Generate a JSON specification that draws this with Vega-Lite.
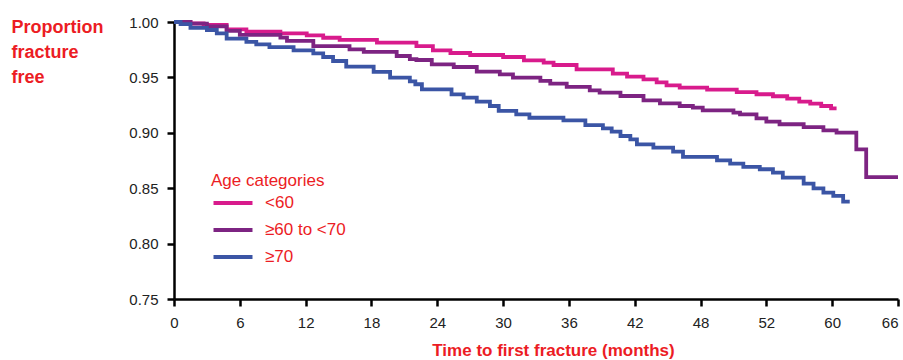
{
  "$schema": "https://vega.github.io/schema/vega-lite/v6.json",
  "width": 724,
  "height": 277,
  "autosize": "none",
  "padding": {"left": 174, "top": 22, "right": 5, "bottom": 61},
  "background": "white",
  "config": {"view": {"stroke": null}, "font": "Liberation Sans"},
  "data": {
    "values": [
      {"g": "<60", "t": 0, "v": 1.0},
      {"g": "<60", "t": 1.5, "v": 0.9988},
      {"g": "<60", "t": 2.7, "v": 0.9973},
      {"g": "<60", "t": 4.8, "v": 0.9934},
      {"g": "<60", "t": 6.6, "v": 0.9913},
      {"g": "<60", "t": 9.7, "v": 0.9898},
      {"g": "<60", "t": 12.1, "v": 0.988},
      {"g": "<60", "t": 13.6, "v": 0.9858},
      {"g": "<60", "t": 15.1, "v": 0.9838},
      {"g": "<60", "t": 18.5, "v": 0.9813},
      {"g": "<60", "t": 22.1, "v": 0.9783},
      {"g": "<60", "t": 23.6, "v": 0.9744},
      {"g": "<60", "t": 25.2, "v": 0.972},
      {"g": "<60", "t": 27.0, "v": 0.9702},
      {"g": "<60", "t": 30.0, "v": 0.9684},
      {"g": "<60", "t": 31.9, "v": 0.9654},
      {"g": "<60", "t": 33.7, "v": 0.9633},
      {"g": "<60", "t": 34.6, "v": 0.9612},
      {"g": "<60", "t": 36.7, "v": 0.9573},
      {"g": "<60", "t": 40.0, "v": 0.9534},
      {"g": "<60", "t": 41.3, "v": 0.9507},
      {"g": "<60", "t": 42.8, "v": 0.9483},
      {"g": "<60", "t": 44.0, "v": 0.9455},
      {"g": "<60", "t": 44.9, "v": 0.9428},
      {"g": "<60", "t": 46.1, "v": 0.9408},
      {"g": "<60", "t": 48.6, "v": 0.939},
      {"g": "<60", "t": 51.3, "v": 0.9368},
      {"g": "<60", "t": 53.1, "v": 0.9348},
      {"g": "<60", "t": 54.6, "v": 0.933},
      {"g": "<60", "t": 55.9, "v": 0.9309},
      {"g": "<60", "t": 57.0, "v": 0.9281},
      {"g": "<60", "t": 58.0, "v": 0.9263},
      {"g": "<60", "t": 59.0, "v": 0.9242},
      {"g": "<60", "t": 59.9, "v": 0.922},
      {"g": "<60", "t": 60.4, "v": 0.922},
      {"g": "≥60 to <70", "t": 0, "v": 1.0},
      {"g": "≥60 to <70", "t": 1.5, "v": 0.9985},
      {"g": "≥60 to <70", "t": 3.0, "v": 0.996},
      {"g": "≥60 to <70", "t": 4.8, "v": 0.992},
      {"g": "≥60 to <70", "t": 6.0, "v": 0.9883},
      {"g": "≥60 to <70", "t": 9.7, "v": 0.9859},
      {"g": "≥60 to <70", "t": 10.3, "v": 0.983},
      {"g": "≥60 to <70", "t": 12.7, "v": 0.9783},
      {"g": "≥60 to <70", "t": 16.0, "v": 0.9753},
      {"g": "≥60 to <70", "t": 17.3, "v": 0.973},
      {"g": "≥60 to <70", "t": 20.3, "v": 0.9693},
      {"g": "≥60 to <70", "t": 21.5, "v": 0.9665},
      {"g": "≥60 to <70", "t": 22.1, "v": 0.9657},
      {"g": "≥60 to <70", "t": 23.5, "v": 0.9618},
      {"g": "≥60 to <70", "t": 25.5, "v": 0.9594},
      {"g": "≥60 to <70", "t": 27.6, "v": 0.9552},
      {"g": "≥60 to <70", "t": 29.7, "v": 0.9528},
      {"g": "≥60 to <70", "t": 30.9, "v": 0.9498},
      {"g": "≥60 to <70", "t": 33.4, "v": 0.9468},
      {"g": "≥60 to <70", "t": 34.3, "v": 0.9443},
      {"g": "≥60 to <70", "t": 35.8, "v": 0.9414},
      {"g": "≥60 to <70", "t": 37.9, "v": 0.9383},
      {"g": "≥60 to <70", "t": 38.8, "v": 0.9362},
      {"g": "≥60 to <70", "t": 40.7, "v": 0.9332},
      {"g": "≥60 to <70", "t": 42.8, "v": 0.9293},
      {"g": "≥60 to <70", "t": 44.3, "v": 0.9266},
      {"g": "≥60 to <70", "t": 46.1, "v": 0.9242},
      {"g": "≥60 to <70", "t": 47.3, "v": 0.9227},
      {"g": "≥60 to <70", "t": 48.2, "v": 0.9203},
      {"g": "≥60 to <70", "t": 51.0, "v": 0.9182},
      {"g": "≥60 to <70", "t": 51.6, "v": 0.9167},
      {"g": "≥60 to <70", "t": 53.1, "v": 0.9131},
      {"g": "≥60 to <70", "t": 54.0, "v": 0.9101},
      {"g": "≥60 to <70", "t": 55.2, "v": 0.9077},
      {"g": "≥60 to <70", "t": 57.4, "v": 0.9052},
      {"g": "≥60 to <70", "t": 59.2, "v": 0.9022},
      {"g": "≥60 to <70", "t": 60.4, "v": 0.9001},
      {"g": "≥60 to <70", "t": 62.2, "v": 0.8851},
      {"g": "≥60 to <70", "t": 63.1, "v": 0.86},
      {"g": "≥60 to <70", "t": 66.0, "v": 0.86},
      {"g": "≥70", "t": 0, "v": 1.0},
      {"g": "≥70", "t": 0.6, "v": 0.998},
      {"g": "≥70", "t": 1.5, "v": 0.9947},
      {"g": "≥70", "t": 3.0, "v": 0.9928},
      {"g": "≥70", "t": 3.9, "v": 0.9898},
      {"g": "≥70", "t": 4.8, "v": 0.985},
      {"g": "≥70", "t": 6.6, "v": 0.982},
      {"g": "≥70", "t": 7.5, "v": 0.9798},
      {"g": "≥70", "t": 8.7, "v": 0.9774},
      {"g": "≥70", "t": 10.9, "v": 0.9744},
      {"g": "≥70", "t": 12.7, "v": 0.9717},
      {"g": "≥70", "t": 13.6, "v": 0.9684},
      {"g": "≥70", "t": 14.5, "v": 0.9648},
      {"g": "≥70", "t": 15.7, "v": 0.9597},
      {"g": "≥70", "t": 18.2, "v": 0.9549},
      {"g": "≥70", "t": 19.7, "v": 0.9498},
      {"g": "≥70", "t": 21.5, "v": 0.9465},
      {"g": "≥70", "t": 22.0, "v": 0.9438},
      {"g": "≥70", "t": 22.6, "v": 0.9392},
      {"g": "≥70", "t": 25.3, "v": 0.9347},
      {"g": "≥70", "t": 26.4, "v": 0.9317},
      {"g": "≥70", "t": 27.6, "v": 0.9281},
      {"g": "≥70", "t": 28.8, "v": 0.9242},
      {"g": "≥70", "t": 29.6, "v": 0.9197},
      {"g": "≥70", "t": 31.2, "v": 0.9167},
      {"g": "≥70", "t": 32.4, "v": 0.9136},
      {"g": "≥70", "t": 35.5, "v": 0.9112},
      {"g": "≥70", "t": 37.5, "v": 0.907},
      {"g": "≥70", "t": 39.1, "v": 0.904},
      {"g": "≥70", "t": 39.9, "v": 0.901},
      {"g": "≥70", "t": 40.7, "v": 0.8971},
      {"g": "≥70", "t": 41.6, "v": 0.8941},
      {"g": "≥70", "t": 42.2, "v": 0.8896},
      {"g": "≥70", "t": 43.7, "v": 0.8866},
      {"g": "≥70", "t": 45.5, "v": 0.883},
      {"g": "≥70", "t": 46.4, "v": 0.8782},
      {"g": "≥70", "t": 49.5, "v": 0.8752},
      {"g": "≥70", "t": 50.7, "v": 0.8722},
      {"g": "≥70", "t": 51.9, "v": 0.8692},
      {"g": "≥70", "t": 53.4, "v": 0.8671},
      {"g": "≥70", "t": 54.6, "v": 0.8641},
      {"g": "≥70", "t": 55.5, "v": 0.8596},
      {"g": "≥70", "t": 57.4, "v": 0.8541},
      {"g": "≥70", "t": 58.3, "v": 0.8499},
      {"g": "≥70", "t": 59.2, "v": 0.846},
      {"g": "≥70", "t": 60.1, "v": 0.843},
      {"g": "≥70", "t": 61.0, "v": 0.8379},
      {"g": "≥70", "t": 61.6, "v": 0.8379}
    ]
  },
  "mark": {"type": "line", "interpolate": "step-after", "strokeWidth": 3.8, "strokeCap": "butt", "strokeJoin": "miter"},
  "encoding": {
    "x": {
      "field": "t",
      "type": "quantitative",
      "scale": {"domain": [0, 66], "nice": false, "zero": false},
      "axis": {
        "values": [0, 6, 12, 18, 24, 30, 36, 42, 48, 54, 60, 66],
        "labelExpr": "datum.value == 54 ? '52' : datum.label",
        "grid": false,
        "domainColor": "#000000",
        "domainWidth": 2.5,
        "tickColor": "#000000",
        "tickWidth": 2.5,
        "tickSize": 7,
        "labelFont": "Liberation Sans",
        "labelFontSize": 15,
        "labelColor": "#222222",
        "labelPadding": 9,
        "labelFlush": false,
        "labelAlign": {"condition": {"test": "datum.value == 66", "value": "right"}, "value": "center"},
        "labelDx": {"condition": {"test": "datum.value == 66", "value": 4}, "value": 1},
        "title": "Time to first fracture (months)",
        "titleFont": "Liberation Sans",
        "titleFontSize": 17,
        "titleFontWeight": "bold",
        "titleColor": "#ec1c24",
        "titleX": 379,
        "titleY": 56,
        "titleAlign": "center",
        "titleBaseline": "alphabetic"
      }
    },
    "y": {
      "field": "v",
      "type": "quantitative",
      "scale": {"domain": [0.75, 1.0], "nice": false, "zero": false},
      "axis": {
        "values": [0.75, 0.8, 0.85, 0.9, 0.95, 1.0],
        "format": ".2f",
        "grid": false,
        "domainColor": "#000000",
        "domainWidth": 2.5,
        "tickColor": "#000000",
        "tickWidth": 2.5,
        "tickSize": 7,
        "labelFont": "Liberation Sans",
        "labelFontSize": 15,
        "labelColor": "#222222",
        "labelPadding": 9,
        "title": ["Proportion", "fracture", "free"],
        "titleFont": "Liberation Sans",
        "titleFontSize": 18,
        "titleFontWeight": "bold",
        "titleColor": "#ec1c24",
        "titleAngle": 0,
        "titleAlign": "left",
        "titleBaseline": "top",
        "titleX": -163,
        "titleY": -4,
        "titleLineHeight": 25
      }
    },
    "color": {
      "field": "g",
      "type": "nominal",
      "scale": {"domain": ["<60", "≥60 to <70", "≥70"], "range": ["#d81b8c", "#7d2482", "#3b55a5"]},
      "legend": {
        "title": "Age categories",
        "orient": "none",
        "legendX": 37,
        "legendY": 151,
        "titleFont": "Liberation Sans",
        "titleFontSize": 17,
        "titleFontWeight": "normal",
        "titleColor": "#ec1c24",
        "titlePadding": 1,
        "labelFont": "Liberation Sans",
        "labelFontSize": 17,
        "labelColor": "#ec1c24",
        "labelOffset": 20,
        "symbolType": "M-2,0H2",
        "symbolSize": 380,
        "symbolOffset": 10,
        "symbolStrokeWidth": 4,
        "rowPadding": 7,
        "padding": 0
      }
    }
  }
}
